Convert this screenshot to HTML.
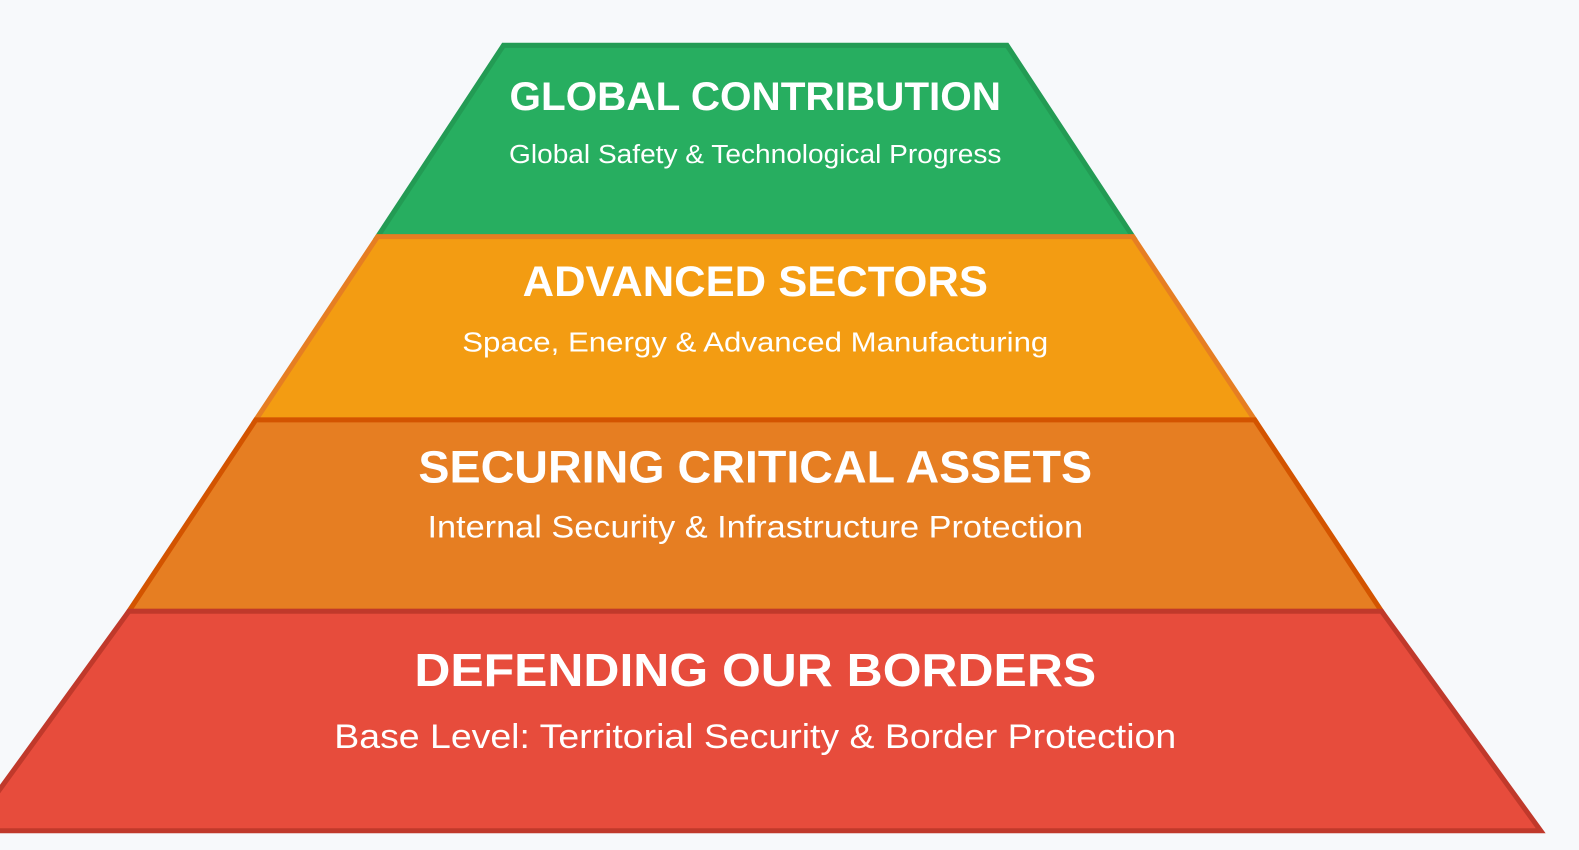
<!DOCTYPE html>
<html><head><meta charset="utf-8"><style>
html,body{margin:0;padding:0;background:#f7f9fb;}
svg{display:block;}
text{font-family:"Liberation Sans",Arial,sans-serif;fill:#fff;text-anchor:middle;}
</style></head><body>
<svg width="1579" height="850" viewBox="0 0 1579 850"><g id="chart" transform="scale(1.007)"></g></svg>
<script>
const titles=["GLOBAL CONTRIBUTION","ADVANCED SECTORS","SECURING CRITICAL ASSETS","DEFENDING OUR BORDERS"];
const subtitles=["Global Safety & Technological Progress","Space, Energy & Advanced Manufacturing","Internal Security & Infrastructure Protection","Base Level: Territorial Security & Border Protection"];
const fills=["#27ae60","#f39c12","#e67e22","#e74c3c"];
const strokes=["#239b54","#e67e22","#d35400","#c0392b"];
const levelNames=["level-global-contribution","level-advanced-sectors","level-securing-critical-assets","level-defending-borders"];
const cx=750;
const bounds=[45,235,417,607,825];
const halfWidths=[250,375,496,622,780];
const tSize=[40,42,45,46], sSize=[26,28,31,34];
const tW=[488,462,669,677], sW=[489,582,651,836];
const tOff=[64,59,62,74], sOff=[117,114,117,136];
const ns="http://www.w3.org/2000/svg";
const svg=document.getElementById('chart');
for(let i=0;i<titles.length;i++){
  const y0=bounds[i], y1=bounds[i+1], h0=halfWidths[i], h1=halfWidths[i+1];
  const g=document.createElementNS(ns,'g');
  
  
  const p=document.createElementNS(ns,'polygon');
  
  
  p.setAttribute('points',`${cx-h0},${y0} ${cx+h0},${y0} ${cx+h1},${y1} ${cx-h1},${y1}`);
  p.setAttribute('fill',fills[i]);p.setAttribute('stroke',strokes[i]);p.setAttribute('stroke-width','5');
  p.setAttribute('stroke-linejoin','miter');
  g.appendChild(p);
  const t=document.createElementNS(ns,'text');
  
  
  t.setAttribute('x',cx);t.setAttribute('y',y0+tOff[i]);
  t.setAttribute('font-size',tSize[i]);t.setAttribute('font-weight','bold');
  t.setAttribute('textLength',tW[i]);t.setAttribute('lengthAdjust','spacingAndGlyphs');
  t.textContent=titles[i];g.appendChild(t);
  const s=document.createElementNS(ns,'text');
  
  
  s.setAttribute('x',cx);s.setAttribute('y',y0+sOff[i]);
  s.setAttribute('font-size',sSize[i]);
  s.setAttribute('textLength',sW[i]);s.setAttribute('lengthAdjust','spacingAndGlyphs');
  s.textContent=subtitles[i];g.appendChild(s);
  svg.appendChild(g);
}
</script>
</body></html>
